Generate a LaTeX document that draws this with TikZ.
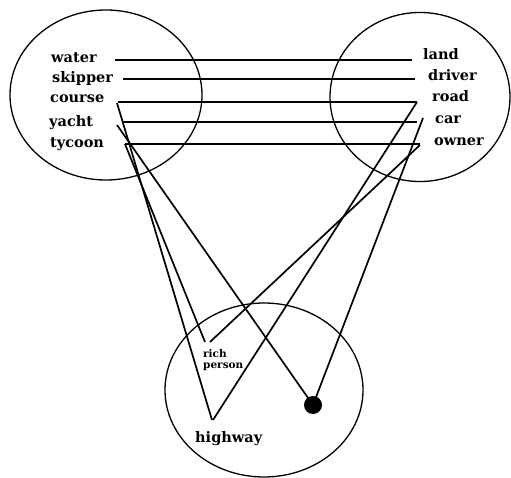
\documentclass[tikz,border=0pt]{standalone}
\usepackage{fontspec}
\setmainfont{DejaVu Serif}
\usepackage{tikz}
\usetikzlibrary{positioning,shapes.geometric}

\begin{document}
\begin{tikzpicture}[
  x=1pt,y=-1pt,
  set/.style={draw,ellipse,line width=1.3pt,inner sep=0pt},
  word/.style={font=\bfseries\fontsize{14.5}{16}\selectfont,inner sep=0pt,anchor=base west},
  small/.style={font=\bfseries\fontsize{10.5}{11}\selectfont,inner sep=0pt,align=left,anchor=north west},
  tie/.style={line width=1.7pt},
  ]
  \useasboundingbox (0,0) rectangle (511,478);
  % the three sets
  \node[set,minimum width=192pt,minimum height=170pt] (sea)   at (106,95)  {};
  \node[set,minimum width=180pt,minimum height=169pt] (lane)  at (420,97)  {};
  \node[set,minimum width=198pt,minimum height=174pt] (blend) at (264,390) {};
  % left words
  \node[word] (water)   at (51,63)  {water};
  \node[word] (skipper) at (52,83)  {skipper};
  \node[word] (course)  at (50,103) {course};
  \node[word] (yacht)   at (49,127) {yacht};
  \node[word] (tycoon)  at (50,148) {tycoon};
  % right words
  \node[word] (land)    at (423,60)  {land};
  \node[word] (driver)  at (428,81)  {driver};
  \node[word] (road)    at (432,102) {road};
  \node[word] (car)     at (435,124) {car};
  \node[word] (owner)   at (434,146) {owner};
  % blend
  \node[small] (rich) at (203,349) {rich\\person};
  \node[word] (highway) at (195,442) {highway};
  \node[circle,fill,inner sep=0pt,minimum size=18pt] (dot) at (313,405) {};
  % cross-space mapping
  \draw[tie] ([shift={(64,-3)}]water.base west)   -- ([shift={(-11,0)}]land.base west);
  \draw[tie] ([shift={(71,-4)}]skipper.base west) -- ([shift={(-13,-2)}]driver.base west);
  \draw[tie] ([shift={(68,-1)}]course.base west)  -- ([shift={(-15,0)}]road.base west);
  \draw[tie] ([shift={(73,-5)}]yacht.base west)   -- ([shift={(-18,-2)}]car.base west);
  \draw[tie] ([shift={(75,-4)}]tycoon.base west)  -- ([shift={(-14,-2)}]owner.base west);
  % projections into the blend
  \draw[tie] ([shift={(67,0)}]course.base west)  -- ([shift={(17,-22)}]highway.base west);
  \draw[tie] ([shift={(68,-2)}]yacht.base west)  -- (dot.center);
  \draw[tie] ([shift={(75,-4)}]tycoon.base west) -- ([shift={(2,-7)}]rich.north west);
  \draw[tie] ([shift={(-15,0)}]road.base west)   -- ([shift={(18,-22)}]highway.base west);
  \draw[tie] ([shift={(-12,-6)}]car.base west)   -- (dot.center);
  \draw[tie] ([shift={(-14,-1)}]owner.base west) -- ([shift={(7,-7)}]rich.north west);
\end{tikzpicture}
\end{document}
